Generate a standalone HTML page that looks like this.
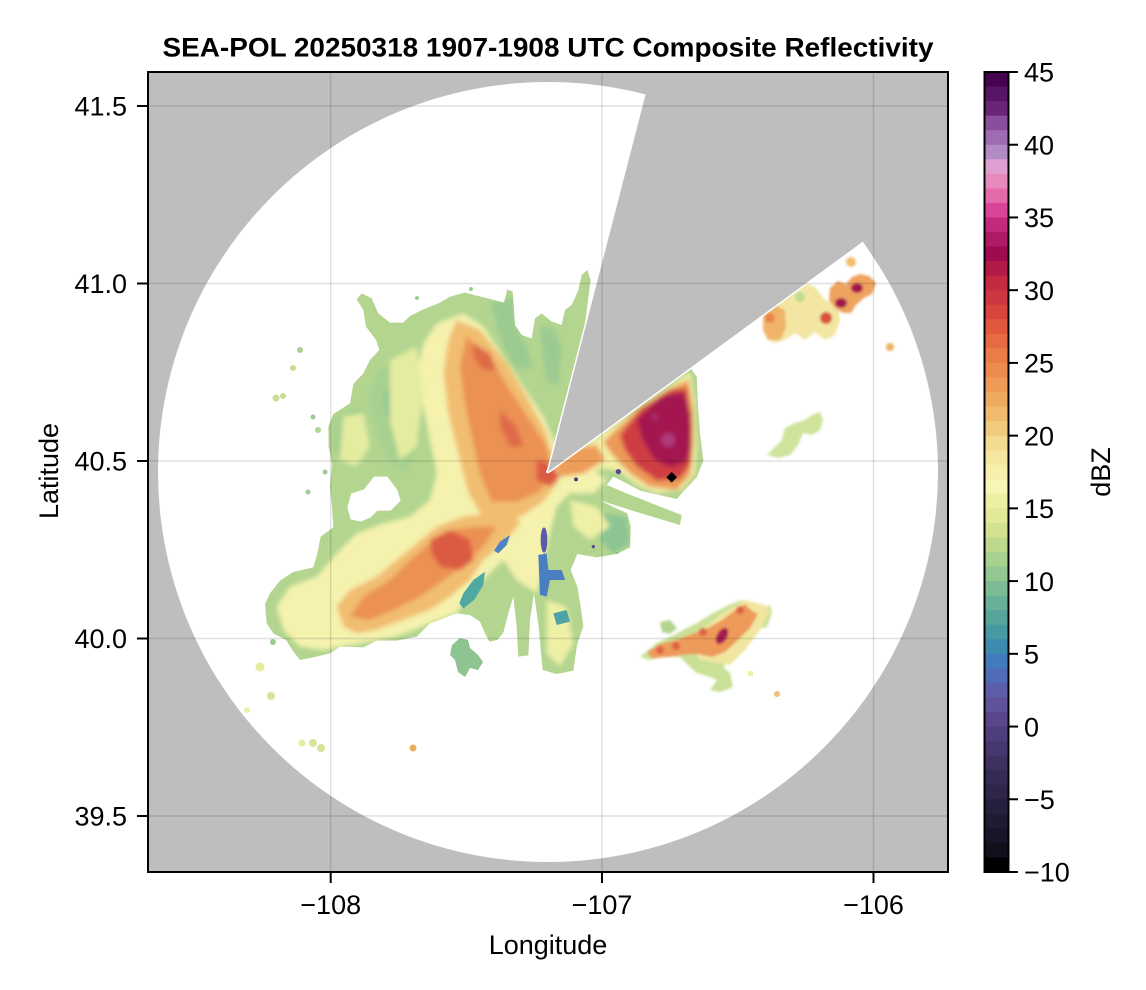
<!DOCTYPE html>
<html>
<head>
<meta charset="utf-8">
<style>
html,body{margin:0;padding:0;background:#ffffff;}
svg{display:block;}
text{font-family:"Liberation Sans",Arial,Helvetica,sans-serif;fill:#000;}
</style>
</head>
<body>
<svg width="1146" height="990" viewBox="0 0 1146 990" xmlns="http://www.w3.org/2000/svg">
<defs>
  <clipPath id="plot"><rect x="148" y="72" width="800" height="800"/></clipPath>
  <path id="env" d="M895,630 L1000,230 L1022,60 L1012,30 L995,45 L985,90 L965,135 L945,150 L935,195 L905,185 L875,160 L855,175 L845,235 L815,225 L795,195 L788,95 L772,88 L762,128 L725,118 L685,108 L645,98 L600,110 L570,128 L520,148 L480,168 L460,188 L420,188 L385,160 L365,115 L335,100 L320,118 L340,150 L348,200 L378,240 L388,270 L360,300 L340,340 L310,372 L300,430 L250,462 L235,500 L236,560 L246,612 L240,680 L246,740 L250,802 L212,830 L202,880 L190,922 L130,936 L90,962 L60,1000 L45,1032 L50,1090 L70,1120 L108,1140 L128,1172 L150,1200 L190,1192 L240,1180 L270,1160 L340,1162 L380,1142 L440,1142 L500,1130 L540,1090 L580,1075 L620,1060 L660,1065 L690,1085 L705,1120 L718,1145 L742,1140 L760,1118 L775,1060 L790,1010 L800,1100 L805,1190 L835,1186 L840,1080 L852,1000 L866,1100 L878,1230 L920,1242 L970,1232 L982,1150 L1000,1100 L992,1040 L982,980 L962,930 L982,882 L1040,892 L1100,882 L1140,862 L1142,800 L1132,760 L1092,742 L1052,722 L1180,762 L1290,795 L1295,765 L1200,728 L1130,700 L1070,675 L1090,650 L1130,670 L1170,692 L1280,717 L1302,692 L1340,652 L1360,602 L1350,520 L1345,450 L1340,350 L1322,324 Z"/>
  <clipPath id="envc"><use href="#env"/></clipPath>
  <filter id="bl" x="-10%" y="-10%" width="120%" height="120%"><feGaussianBlur stdDeviation="7"/></filter>
  <filter id="bs" x="-20%" y="-20%" width="140%" height="140%"><feGaussianBlur stdDeviation="1.2"/></filter>
</defs>

<!-- Title -->
<text x="548" y="56.5" font-size="27" font-weight="bold" text-anchor="middle" textLength="771" lengthAdjust="spacingAndGlyphs">SEA-POL 20250318 1907-1908 UTC Composite Reflectivity</text>

<!-- Plot area -->
<g clip-path="url(#plot)">
  <rect x="148" y="72" width="800" height="800" fill="#bebebe"/>
  <circle cx="548" cy="472" r="390" fill="#ffffff"/>

  <!-- Main echo (coords in zoomed space) -->
  <g transform="translate(250 260) scale(0.333333)">
    <use href="#env" fill="#b3d58f"/>
    <g clip-path="url(#envc)">
      <g filter="url(#bl)">
        <!-- teal-green patches -->
        <polygon fill="#a8d190" points="380,330 450,300 500,380 520,500 470,640 420,620 380,520 350,420"/>
        <polygon fill="#9ccb91" points="720,130 790,110 800,200 830,260 850,320 800,330 760,260"/>
        <polygon fill="#9ccb91" points="870,200 905,200 935,260 925,380 890,360 878,280"/>
        <polygon fill="#a8d090" points="250,470 330,440 350,520 300,600 250,580"/>
        <polygon fill="#95c792" points="400,390 435,375 460,440 430,500 405,460"/>
        <polygon fill="#8cc593" points="1060,760 1130,770 1140,850 1090,880 1050,840"/>
        <!-- yellow -->
        <polygon fill="#f4f2ad" points="560,190 640,160 700,200 760,290 820,380 880,470 920,560 960,620 1030,630 1070,660 1030,700 960,700 920,740 900,820 880,920 860,1000 800,960 760,900 720,940 660,1000 620,1060 540,1090 440,1130 330,1150 220,1170 150,1160 100,1110 80,1040 120,980 200,950 260,880 320,820 400,790 480,770 540,720 560,640 540,540 520,440 500,340 520,250"/>
        <polygon fill="#e4eca0" points="420,300 500,260 520,400 500,560 450,600 420,480"/>
        <polygon fill="#e4eca0" points="280,470 340,460 360,560 320,620 270,600"/>
        <polygon fill="#eef0a6" points="960,720 1040,740 1080,800 1020,840 970,800"/>
        <polygon fill="#eef0a6" points="890,1020 950,1040 970,1150 930,1220 890,1180"/>
        <!-- light orange -->
        <polygon fill="#f1bd71" points="620,180 690,210 770,310 830,410 885,510 915,600 925,665 880,725 820,765 760,785 700,775 655,700 625,580 595,460 580,340 595,240"/>
        <polygon fill="#f1bd71" points="280,1100 260,1040 300,990 380,950 440,900 500,850 560,800 640,770 720,760 790,740 810,790 760,850 700,900 660,960 600,1010 540,1050 460,1080 380,1110 320,1120"/>
        <!-- orange -->
        <polygon fill="#eb9153" points="650,230 715,285 770,375 830,465 885,550 908,630 870,695 800,725 725,725 690,640 668,540 645,430 630,320"/>
        <polygon fill="#eb9153" points="300,1070 340,1010 420,960 480,900 540,850 600,810 680,800 740,800 700,860 640,920 580,960 510,1010 430,1050 360,1080"/>
        <!-- red -->
        <polygon fill="#db5a43" points="540,840 600,810 660,840 670,900 630,930 570,920 545,880"/>
        <polygon fill="#df6a46" points="670,250 720,280 740,330 700,330 670,290"/>
        <polygon fill="#db5a43" points="860,600 900,610 930,650 900,680 860,660"/>
        <polygon fill="#e06a48" points="750,450 800,500 820,560 780,560 750,500"/>
        <!-- NE triangle -->
        <polygon fill="#f3eea5" points="930,600 1000,560 1100,490 1200,420 1320,335 1335,420 1340,560 1335,640 1295,690 1220,700 1160,675 1110,635 1060,625 1000,645 940,650"/>
        <polygon fill="#ee9e5a" points="910,600 980,565 1040,555 1065,600 1000,640 930,650"/>
        <polygon fill="#ec9a58" points="1060,545 1160,450 1260,385 1315,360 1330,450 1330,560 1320,645 1280,690 1200,680 1150,648 1105,605 1080,575"/>
        <polygon fill="#cf3d42" points="1110,525 1175,445 1260,390 1310,385 1325,500 1322,610 1290,655 1220,662 1160,618 1125,570"/>
        <polygon fill="#a3164f" points="1160,480 1235,410 1300,398 1322,460 1322,560 1308,605 1262,622 1215,600 1180,545"/>
        <circle cx="1255" cy="540" r="20" fill="#b0488a" opacity="0.8"/>
        <circle cx="1215" cy="470" r="10" fill="#b0488a" opacity="0.6"/>
      </g>
      <!-- sharp features -->
      <polygon fill="#4fa9a2" points="705,935 700,975 672,1020 640,1045 628,1030 640,1000 670,960"/>
      <polygon fill="#4d82c2" points="780,825 770,855 745,880 732,872 750,845"/>
      <ellipse cx="882" cy="840" rx="10" ry="38" fill="#5b5aa6"/>
      <polygon fill="#4a7ec0" points="865,885 890,880 895,930 935,930 945,960 900,960 890,1010 870,1005"/>
      <polygon fill="#4da3a5" points="910,1060 950,1050 960,1085 920,1095"/>
      <circle cx="978" cy="658" r="6" fill="#4a3f80"/>
      <circle cx="1105" cy="635" r="8" fill="#5a4a8f"/>
      <circle cx="1030" cy="860" r="5" fill="#5a4a8f"/>
      <polygon fill="#4a7ec0" points="1100,878 1150,882 1148,892 1100,890"/>
    </g>
    <!-- white hole in west part -->
    <polygon fill="#ffffff" points="292,742 304,700 342,688 372,650 412,650 442,690 452,722 422,752 382,752 362,772 332,785 302,778"/>
    <circle cx="893" cy="635" r="5" fill="#ffffff"/>
  </g>

  <!-- small blobs (orig coords) -->
  <g>
    <polygon fill="#8ec392" points="452,645 460,638 468,640 470,648 478,655 483,662 478,670 470,668 465,677 458,672 455,660 450,655"/>
    <circle cx="273" cy="642" r="3" fill="#9ccb91"/>
    <circle cx="260" cy="667" r="4.5" fill="#e6ec9e"/>
    <circle cx="271" cy="696" r="4" fill="#d6e597"/>
    <circle cx="247" cy="710" r="3" fill="#eef0a6"/>
    <circle cx="302" cy="743" r="3.5" fill="#e6ec9e"/>
    <circle cx="313" cy="743" r="4" fill="#d6e597"/>
    <circle cx="321" cy="748" r="4" fill="#d6e597"/>
    <circle cx="413" cy="748" r="3.5" fill="#eeae60"/>
    <circle cx="777" cy="694" r="3" fill="#eec070"/>
    <rect x="748" y="671" width="5" height="5" fill="#eef0a6"/>
    <circle cx="300" cy="350" r="3" fill="#a8d090"/>
    <circle cx="293" cy="368" r="3" fill="#c6df94"/>
    <circle cx="276" cy="398" r="3.5" fill="#c6df94"/>
    <circle cx="283" cy="396" r="3" fill="#c6df94"/>
    <circle cx="313" cy="417" r="2.5" fill="#9ccb91"/>
    <circle cx="318" cy="430" r="3" fill="#b3d58f"/>
    <circle cx="325" cy="472" r="2.5" fill="#9ccb91"/>
    <circle cx="308" cy="492" r="2.5" fill="#9ccb91"/>
    <circle cx="471" cy="289" r="2" fill="#9ccb91"/>
    <circle cx="417" cy="298" r="2" fill="#9ccb91"/>
  </g>

  <!-- NE cells -->
  <g filter="url(#bs)">
    <polygon fill="#f3e6a3" points="763,313 775,303 793,290 805,283 815,287 825,300 838,305 840,320 835,335 825,340 815,332 805,340 795,333 785,340 775,343 768,340 763,330"/>
    <polygon fill="#efb46a" points="763,315 775,305 785,310 786,328 780,340 768,340 763,330"/>
    <circle cx="770" cy="318" r="5" fill="#e8844c"/>
    <circle cx="800" cy="297" r="5" fill="#bcdc92"/>
    <polygon fill="#eea35e" points="830,288 838,281 846,284 852,277 860,274 869,276 876,283 872,294 864,298 856,305 851,313 843,313 835,308 829,300"/>
    <circle cx="826" cy="318" r="6" fill="#d9533f"/>
    <ellipse cx="841" cy="303" rx="6" ry="5" fill="#a5174f"/>
    <ellipse cx="857" cy="288" rx="6" ry="5" fill="#a5174f"/>
    <circle cx="851" cy="262" r="5" fill="#f0c070"/>
    <circle cx="890" cy="347" r="4" fill="#eeae60"/>
    <polygon fill="#cfe39a" points="767,455 775,447 782,440 785,428 795,423 805,420 812,415 820,412 823,420 820,430 812,435 803,433 798,445 790,455 778,458"/>
    <!-- SE cluster -->
    <polygon fill="#c9e096" points="640,657 657,643 670,637 683,630 697,623 713,613 733,603 743,600 750,607 760,610 770,605 772,613 767,627 753,630 747,637 740,647 730,660 723,667 730,673 733,687 720,692 710,690 717,680 710,677 697,673 690,667 680,657 663,657 650,660"/>
    <polygon fill="#b3d58f" points="660,622 670,620 677,628 670,634 662,632"/>
    <polygon fill="#f0e6a0" points="690,640 720,615 745,600 765,605 770,612 760,630 745,650 730,665 700,660"/>
    <polygon fill="#ee9a5a" points="647,652 660,644 676,640 692,634 708,628 722,620 735,610 745,604 752,611 758,614 750,628 738,640 725,652 712,657 698,654 683,655 668,657 652,658"/>
    <circle cx="660" cy="650" r="4" fill="#df6247"/>
    <circle cx="676" cy="646" r="4" fill="#df6247"/>
    <circle cx="703" cy="632" r="4" fill="#df6247"/>
    <circle cx="740" cy="610" r="4" fill="#df6247"/>
    <ellipse cx="722" cy="636" rx="5" ry="9" fill="#a51a50" transform="rotate(30 722 636)"/>
  </g>

  <!-- black diamond -->
  <polygon fill="#000" points="671.7,472 677,477.3 671.7,482.6 666.4,477.3"/>

  <!-- wedge edges (white) and blocked sector -->
  <line x1="548" y1="472" x2="645.7" y2="94.4" stroke="#fff" stroke-width="3"/>
  <line x1="548" y1="472" x2="862.7" y2="241.7" stroke="#fff" stroke-width="3"/>
  <polygon fill="#bebebe" points="548,472 698.2,-108.9 1100,-108.9 1100,117.7 1032.2,117.7"/>

  <!-- grid -->
  <g stroke="#000" stroke-opacity="0.12" stroke-width="1.5">
    <line x1="330.7" y1="72" x2="330.7" y2="872"/>
    <line x1="602" y1="72" x2="602" y2="872"/>
    <line x1="873.5" y1="72" x2="873.5" y2="872"/>
    <line x1="148" y1="106" x2="948" y2="106"/>
    <line x1="148" y1="283.5" x2="948" y2="283.5"/>
    <line x1="148" y1="461" x2="948" y2="461"/>
    <line x1="148" y1="638.5" x2="948" y2="638.5"/>
    <line x1="148" y1="816" x2="948" y2="816"/>
  </g>
</g>

<!-- spines -->
<rect x="148" y="72" width="800" height="800" fill="none" stroke="#000" stroke-width="2"/>

<!-- ticks -->
<g stroke="#000" stroke-width="2">
  <line x1="330.7" y1="872" x2="330.7" y2="883"/>
  <line x1="602" y1="872" x2="602" y2="883"/>
  <line x1="873.5" y1="872" x2="873.5" y2="883"/>
  <line x1="137" y1="106" x2="148" y2="106"/>
  <line x1="137" y1="283.5" x2="148" y2="283.5"/>
  <line x1="137" y1="461" x2="148" y2="461"/>
  <line x1="137" y1="638.5" x2="148" y2="638.5"/>
  <line x1="137" y1="816" x2="148" y2="816"/>
</g>

<!-- tick labels -->
<g font-size="27">
  <text x="330.7" y="914" text-anchor="middle">−108</text>
  <text x="602" y="914" text-anchor="middle">−107</text>
  <text x="873.5" y="914" text-anchor="middle">−106</text>
  <text x="127" y="115.5" text-anchor="end">41.5</text>
  <text x="127" y="293" text-anchor="end">41.0</text>
  <text x="127" y="470.5" text-anchor="end">40.5</text>
  <text x="127" y="648" text-anchor="end">40.0</text>
  <text x="127" y="825.5" text-anchor="end">39.5</text>
</g>

<!-- axis labels -->
<text x="548" y="954" font-size="27" text-anchor="middle">Longitude</text>
<text transform="translate(58 471) rotate(-90)" font-size="27" text-anchor="middle">Latitude</text>

<!-- colorbar -->
<g>
  <rect x="985" y="72" width="23" height="15" fill="#46034f"/>
  <rect x="985" y="86.55" width="23" height="15" fill="#561565"/>
  <rect x="985" y="101.09" width="23" height="15" fill="#6b2577"/>
  <rect x="985" y="115.64" width="23" height="15" fill="#8a4e9d"/>
  <rect x="985" y="130.18" width="23" height="15" fill="#9e6cb1"/>
  <rect x="985" y="144.73" width="23" height="15" fill="#b08bc4"/>
  <rect x="985" y="159.27" width="23" height="15" fill="#dea0d0"/>
  <rect x="985" y="173.82" width="23" height="15" fill="#e68abb"/>
  <rect x="985" y="188.36" width="23" height="15" fill="#e46aaa"/>
  <rect x="985" y="202.91" width="23" height="15" fill="#d84596"/>
  <rect x="985" y="217.45" width="23" height="15" fill="#c42a7b"/>
  <rect x="985" y="232" width="23" height="15" fill="#ae1c68"/>
  <rect x="985" y="246.55" width="23" height="15" fill="#9e0b4e"/>
  <rect x="985" y="261.09" width="23" height="15" fill="#b21a47"/>
  <rect x="985" y="275.64" width="23" height="15" fill="#c42a42"/>
  <rect x="985" y="290.18" width="23" height="15" fill="#cd3741"/>
  <rect x="985" y="304.73" width="23" height="15" fill="#d8453f"/>
  <rect x="985" y="319.27" width="23" height="15" fill="#e2583f"/>
  <rect x="985" y="333.82" width="23" height="15" fill="#e66b42"/>
  <rect x="985" y="348.36" width="23" height="15" fill="#ea7c47"/>
  <rect x="985" y="362.91" width="23" height="15" fill="#ed8b4f"/>
  <rect x="985" y="377.45" width="23" height="15" fill="#ee9b58"/>
  <rect x="985" y="392" width="23" height="15" fill="#efaa62"/>
  <rect x="985" y="406.55" width="23" height="15" fill="#f0bb6e"/>
  <rect x="985" y="421.09" width="23" height="15" fill="#f1cb7d"/>
  <rect x="985" y="435.64" width="23" height="15" fill="#f3db8f"/>
  <rect x="985" y="450.18" width="23" height="15" fill="#f5e7a0"/>
  <rect x="985" y="464.73" width="23" height="15" fill="#f6f0ac"/>
  <rect x="985" y="479.27" width="23" height="15" fill="#f8f6b6"/>
  <rect x="985" y="493.82" width="23" height="15" fill="#ecf0a2"/>
  <rect x="985" y="508.36" width="23" height="15" fill="#e2ea98"/>
  <rect x="985" y="522.91" width="23" height="15" fill="#d2e28f"/>
  <rect x="985" y="537.45" width="23" height="15" fill="#bcd98d"/>
  <rect x="985" y="552" width="23" height="15" fill="#a8d08f"/>
  <rect x="985" y="566.55" width="23" height="15" fill="#93c791"/>
  <rect x="985" y="581.09" width="23" height="15" fill="#7dbb94"/>
  <rect x="985" y="595.64" width="23" height="15" fill="#68b097"/>
  <rect x="985" y="610.18" width="23" height="15" fill="#56a49a"/>
  <rect x="985" y="624.73" width="23" height="15" fill="#479aa3"/>
  <rect x="985" y="639.27" width="23" height="15" fill="#3d8cb0"/>
  <rect x="985" y="653.82" width="23" height="15" fill="#437bbd"/>
  <rect x="985" y="668.36" width="23" height="15" fill="#506cb7"/>
  <rect x="985" y="682.91" width="23" height="15" fill="#5d5eaa"/>
  <rect x="985" y="697.45" width="23" height="15" fill="#60529b"/>
  <rect x="985" y="712" width="23" height="15" fill="#5a478b"/>
  <rect x="985" y="726.55" width="23" height="15" fill="#4f3e7c"/>
  <rect x="985" y="741.09" width="23" height="15" fill="#46376e"/>
  <rect x="985" y="755.64" width="23" height="15" fill="#3e3161"/>
  <rect x="985" y="770.18" width="23" height="15" fill="#362b55"/>
  <rect x="985" y="784.73" width="23" height="15" fill="#2e2549"/>
  <rect x="985" y="799.27" width="23" height="15" fill="#271f3e"/>
  <rect x="985" y="813.82" width="23" height="15" fill="#201a33"/>
  <rect x="985" y="828.36" width="23" height="15" fill="#191528"/>
  <rect x="985" y="842.91" width="23" height="15" fill="#13101d"/>
  <rect x="985" y="857.45" width="23" height="14.55" fill="#000000"/>
  <rect x="984.5" y="72" width="24" height="800" fill="none" stroke="#000" stroke-width="2"/>
  <g stroke="#000" stroke-width="2">
    <line x1="1008" y1="72" x2="1018" y2="72"/>
    <line x1="1008" y1="144.73" x2="1018" y2="144.73"/>
    <line x1="1008" y1="217.45" x2="1018" y2="217.45"/>
    <line x1="1008" y1="290.18" x2="1018" y2="290.18"/>
    <line x1="1008" y1="362.91" x2="1018" y2="362.91"/>
    <line x1="1008" y1="435.64" x2="1018" y2="435.64"/>
    <line x1="1008" y1="508.36" x2="1018" y2="508.36"/>
    <line x1="1008" y1="581.09" x2="1018" y2="581.09"/>
    <line x1="1008" y1="653.82" x2="1018" y2="653.82"/>
    <line x1="1008" y1="726.55" x2="1018" y2="726.55"/>
    <line x1="1008" y1="799.27" x2="1018" y2="799.27"/>
    <line x1="1008" y1="872" x2="1018" y2="872"/>
  </g>
  <g font-size="27">
    <text x="1024" y="81.7">45</text>
    <text x="1024" y="154.4">40</text>
    <text x="1024" y="227.2">35</text>
    <text x="1024" y="299.9">30</text>
    <text x="1024" y="372.6">25</text>
    <text x="1024" y="445.3">20</text>
    <text x="1024" y="518.1">15</text>
    <text x="1024" y="590.8">10</text>
    <text x="1024" y="663.5">5</text>
    <text x="1024" y="736.3">0</text>
    <text x="1024" y="809">−5</text>
    <text x="1024" y="881.7">−10</text>
  </g>
  <text transform="translate(1110 472) rotate(-90)" font-size="27" text-anchor="middle">dBZ</text>
</g>
</svg>
</body>
</html>
